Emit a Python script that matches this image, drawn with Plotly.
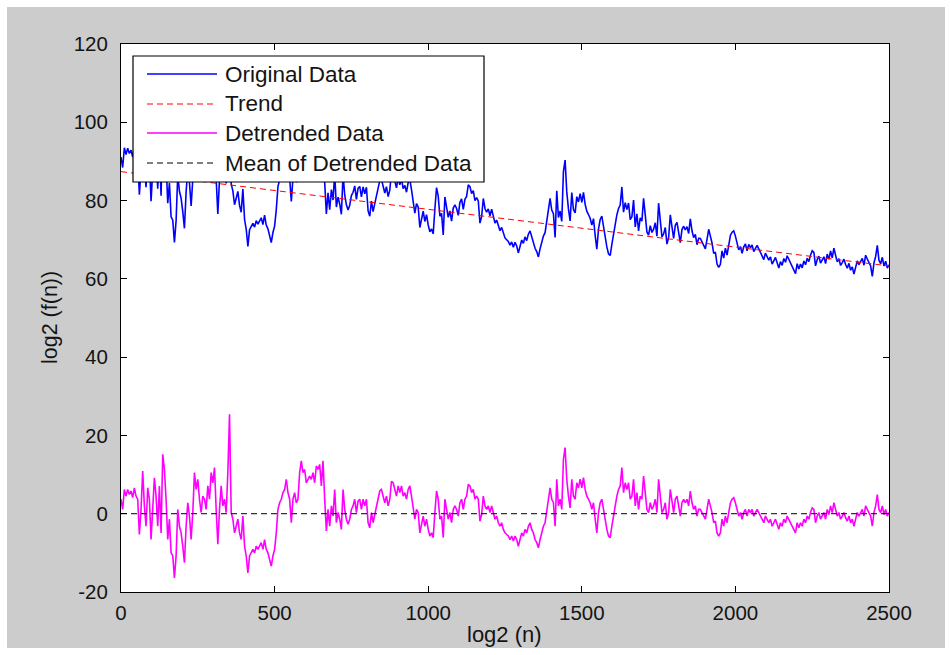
import numpy as np
import plotly.graph_objects as go

# ---------------- data ----------------
x_range = [0, 2500]                 # sample axis extent
trend_ends = [87.4, 63.3]           # linear trend value at x=0 and x=2500
mean_detrended = 0.0                # mean of detrended data

detrended = [
    # 0 .. ~610
    3.7, 1.1, 6.2, 4.5, 6.2, 4.9, 5.8, 4.1, 6.6, 4.5, 3.7, -5.3, 1.1, 10.9, 2.0, -3.2,
    6.6, 3.7, -6.6, 1.1, 9.2, 4.5, -3.2, 7.1, -4.9, 15.2, 11.3, 3.7, -6.6, -1.4, -10.0,
    -10.8, -16.4, -10.8, 1.1, -3.2, -4.9, -8.3, -12.5, -3.2, 2.8, -0.6, -6.6, 0.3, 10.5,
    6.2, 8.8, 3.7, 0.3, 4.5, 3.7, 1.1, 7.1, 3.7, 10.5, 7.9, 11.8, 1.1, -7.8, 1.1, 7.1,
    2.0, 3.7, 0.3, 10.5, 25.4, 0.3, -1.4, -4.9, -3.2, -1.4, -4.9, -6.6, -0.6, -8.3,
    -10.8, -15.1, -10.8, -10.0, -9.1, -10.0, -8.3, -9.1, -8.3, -7.4, -9.1, -6.6, -9.1,
    -10.0, -11.7, -13.4, -10.8, -9.1, -4.9, 1.1, 2.8, 3.7, 5.4, 6.2, 8.8, 5.4, 3.7,
    -2.3, 3.7, 5.4, 2.8, 3.7, 10.5, 13.5, 10.5, 11.3, 7.9, 8.8,
    # ~615 .. ~1245
    9.6, 8.8, 10.5, 7.9, 12.2, 11.3, 12.6, 7.1, 13.5, 3.7, -4.4, 1.1, -3.2, 2.0, -0.6,
    6.2, -2.3, 0.3, -1.4, -4.0, 6.2, 1.1, -1.4, -2.7, -1.4, 1.1, 2.0, 3.7, 0.3, 3.2,
    3.7, 1.1, 3.7, 2.0, 3.7, -2.3, -3.6, 0.3, -2.3, -0.2, 2.0, 4.5, 5.8, 6.2, 4.1, 2.8,
    4.5, 2.0, 3.7, 8.3, 7.9, 6.2, 4.5, 7.1, 5.4, 7.1, 4.5, 5.4, 3.7, 6.2, 7.1, 4.5, 1.1,
    -1.4, 1.1, 0.3, -4.9, -2.3, -0.6, -3.2, -1.4, -4.0, -5.7, -4.9, -6.1, 0.3, 5.8, 3.7,
    -1.4, -0.6, -6.1, 3.7, 1.1, -1.4, 0.3, -2.3, 1.1, 2.0, 1.1, -0.6, 2.8, 3.7, 1.1,
    3.7, 4.5, 7.5, 7.1, 5.4, 6.2, 3.7, 4.5, 3.7, -1.9, -0.2, 4.5, 2.0, 1.1, 2.0, 0.3,
    2.0, 0.3, -1.4, -0.6, -2.3, -3.2, -2.3, -4.0,
    # ~1250 .. ~1880
    -4.9, -5.3, -5.7, -6.6, -5.7, -7.0, -5.7, -6.6, -8.3, -6.6, -4.9, -5.7, -4.0, -4.9,
    -3.2, -2.3, -4.0, -4.9, -6.6, -7.4, -8.7, -6.6, -4.9, -3.2, -2.3, 0.3, 3.7, 6.6,
    3.7, 2.8, -3.2, 8.8, 2.0, 3.7, 1.1, 13.9, 16.9, 8.8, 4.5, 1.5, 8.8, 4.5, 3.7, 7.9,
    6.6, 8.8, 6.6, 9.2, 6.2, 4.5, 3.7, 2.8, 1.1, 2.8, -1.4, -4.9, 0.3, 2.8, 3.7, 1.1,
    -2.3, -4.0, -5.7, -6.1, -3.2, -0.6, 2.8, 4.5, 6.2, 7.1, 11.8, 5.4, 7.9, 6.2, 7.9,
    3.7, 4.5, 8.8, 2.0, 5.4, 1.1, 4.5, 3.7, 9.6, 5.4, 1.1, 0.3, 2.8, 1.1, 2.0, 3.7, 0.3,
    8.8, 4.5, 0.3, 1.1, 2.8, -1.4, 0.3, 6.2, 2.8, 0.3, 3.7, 4.5, 2.0, -0.6, 2.8, 3.7,
    2.8, 3.7, 2.0, 5.8, 2.8, 1.1, 2.0, -0.6, 1.1,
    # ~1885 .. 2500
    1.1, 0.3, -0.6, -1.4, 1.1, 3.7, 2.0, 0.3, -2.3, -1.9, -4.9, -5.7, -4.9, -1.4, -3.2,
    -0.6, -2.3, 0.3, 2.8, 3.7, 4.1, 2.8, 1.1, -0.6, 0.3, -1.4, 0.3, 1.1, -0.6, 1.1, 0.3,
    1.1, -0.6, 0.3, 1.1, 0.3, -0.6, -1.4, -2.3, -0.6, -1.4, -2.3, -1.4, -3.2, -2.3,
    -1.4, -2.7, -4.0, -2.3, -3.2, -1.4, -2.3, -0.6, -1.4, -2.3, -3.2, -4.0, -4.9, -2.3,
    -3.6, -2.3, -3.2, -1.4, -2.3, -0.6, -1.4, 0.3, 1.5, 1.1, -2.3, -0.6, 0.3, -1.4,
    -0.6, 0.3, -1.4, 1.1, -0.2, 2.0, 0.3, 2.8, 1.1, -0.6, 0.3, -1.4, -0.6, 0.3, -1.0,
    -1.9, -0.6, -2.3, -1.4, -3.2, -1.4, 0.3, -0.6, 0.3, 1.1, -0.6, 2.0, 1.1, 0.3, -0.6,
    -3.2, 0.3, 2.0, 4.9, 1.1, 0.3, 2.0, -0.2, 1.1, -0.6, 0.3,
]

legend_labels = ["Original Data", "Trend", "Detrended Data", "Mean of Detrended Data"]
x_ticks = [0, 500, 1000, 1500, 2000, 2500]
y_ticks = [-20, 0, 20, 40, 60, 80, 100, 120]
x_title = "log2 (n)"
y_title = "log2 (f(n))"

# ---------------- derived series ----------------
n = np.linspace(x_range[0], x_range[1], len(detrended))
det = np.array(detrended)
trend_line = trend_ends[0] + (trend_ends[1] - trend_ends[0]) * (n - x_range[0]) / (x_range[1] - x_range[0])
original = trend_line + det

# ---------------- styling ----------------
FONT = "Arial, 'Liberation Sans', sans-serif"
TXT = "#141414"
colors = ["#0000ff", "#ff0000", "#ff00ff", "#000000"]
dashes = ["solid", "6px,4px", "solid", "6px,4px"]

W, H = 950, 655
L, R, T, B = 121, 61, 44, 63
pw, ph = W - L - R, H - T - B


def px2paper(px, py):
    return (px - L) / pw, (H - B - py) / ph


fig = go.Figure()
fig.add_trace(go.Scatter(x=n, y=original, mode="lines",
                         line=dict(color=colors[0], width=1.6), showlegend=False))
fig.add_trace(go.Scatter(x=x_range, y=trend_ends, mode="lines",
                         line=dict(color=colors[1], width=1, dash=dashes[1]), showlegend=False))
fig.add_trace(go.Scatter(x=n, y=det, mode="lines",
                         line=dict(color=colors[2], width=1.6), showlegend=False))
fig.add_trace(go.Scatter(x=x_range, y=[mean_detrended, mean_detrended], mode="lines",
                         line=dict(color=colors[3], width=1, dash=dashes[3]), showlegend=False))

shapes = []
# white outer frame strips (figure window border)
for (ax0, ay0, ax1, ay1) in [(0, 0, W, 7), (0, 0, 7, H), (945, 0, W, H), (0, 648, W, H)]:
    x0, y0 = px2paper(ax0, ay0)
    x1, y1 = px2paper(ax1, ay1)
    shapes.append(dict(type="rect", xref="paper", yref="paper", x0=x0, x1=x1, y0=y0, y1=y1,
                       fillcolor="white", line=dict(width=0), layer="below"))

# manual legend box
lx0, ly0 = px2paper(133, 56)
lx1, ly1 = px2paper(484, 182)
shapes.append(dict(type="rect", xref="paper", yref="paper", x0=lx0, x1=lx1, y0=ly1, y1=ly0,
                   fillcolor="white", line=dict(color="black", width=1.2), layer="above"))
annotations = []
row_py = [74, 104, 133, 163]
for i, lab in enumerate(legend_labels):
    sx0, sy = px2paper(147, row_py[i])
    sx1, _ = px2paper(217, row_py[i])
    shapes.append(dict(type="line", xref="paper", yref="paper", x0=sx0, x1=sx1, y0=sy, y1=sy,
                       line=dict(color=colors[i], width=1.3 if dashes[i] == "solid" else 1,
                                 dash=dashes[i]), layer="above"))
    tx, _ = px2paper(223, row_py[i])
    annotations.append(dict(xref="paper", yref="paper", x=tx, y=sy, text=lab, showarrow=False,
                            xanchor="left", yanchor="middle",
                            font=dict(family=FONT, size=22.5, color=TXT)))

# axis titles
ax_x, ax_y = px2paper(504, 634)
annotations.append(dict(xref="paper", yref="paper", x=ax_x, y=ax_y, text=x_title, showarrow=False,
                        xanchor="center", yanchor="middle", font=dict(family=FONT, size=22, color=TXT)))
ay_x, ay_y = px2paper(50, 318)
annotations.append(dict(xref="paper", yref="paper", x=ay_x, y=ay_y, text=y_title, showarrow=False,
                        textangle=-90, xanchor="center", yanchor="middle",
                        font=dict(family=FONT, size=21.5, color=TXT)))

fig.update_layout(
    width=W, height=H,
    margin=dict(l=L, r=R, t=T, b=B, pad=0),
    paper_bgcolor="#cccccc",
    plot_bgcolor="white",
    showlegend=False,
    shapes=shapes,
    annotations=annotations,
    font=dict(family=FONT, size=20.5, color=TXT),
)
axis_common = dict(showgrid=False, zeroline=False, showline=True, linecolor="black", linewidth=1,
                   mirror="ticks", ticks="inside", ticklen=6, tickcolor="black", tickwidth=1,
                   tickfont=dict(family=FONT, size=20.5, color=TXT))
fig.update_xaxes(range=x_range, tickvals=x_ticks, ticktext=[str(v) for v in x_ticks],
                 ticklabelstandoff=2, **axis_common)
fig.update_yaxes(range=[y_ticks[0], y_ticks[-1]], tickvals=y_ticks,
                 ticktext=[str(v) for v in y_ticks], ticklabelstandoff=8, **axis_common)

fig.write_html("out.html")
